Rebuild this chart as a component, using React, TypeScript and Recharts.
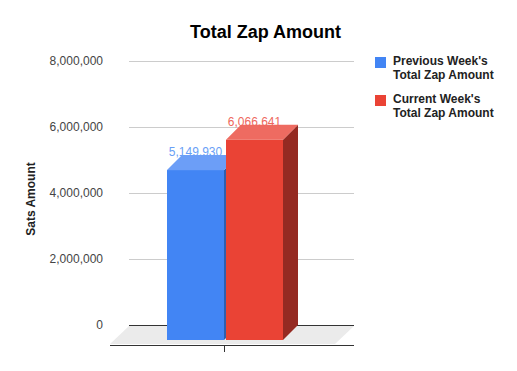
import React from 'react';
import { BarChart, Bar, XAxis, YAxis, CartesianGrid, LabelList } from 'recharts';

const categories = ['Total Zap Amount'];
const seriesNames = ["Previous Week's Total Zap Amount", "Current Week's Total Zap Amount"];
const previousWeek = [5149930];
const currentWeek = [6066641];
const yTicks = [0, 2000000, 4000000, 6000000, 8000000];

const data = categories.map((name, i) => ({ name, previous: previousWeek[i], current: currentWeek[i] }));

const FONT = '"Liberation Sans", Arial, sans-serif';
// 3d depth of the bars and of the floor
const DX = 15;
const DY = 15;
const FLOOR = 19;

const blue = { front: '#4285f4', top: '#6c9ef7', side: '#2f5fae', label: '#6a9ff6' };
const red = { front: '#ea4335', top: '#ee6b61', side: '#952a22', label: '#ee675c' };
const palette = [blue, red];

const fmt = (v: number) => v.toLocaleString('en-US');

const makeShape = (c: typeof blue) => (props: any) => {
  const { x, y, width, height } = props;
  if (width == null || height == null) return <g />;
  const fx = x - DX;
  const fy = y + DY;
  return (
    <g>
      <polygon
        points={`${fx + width},${fy} ${x + width},${y} ${x + width},${y + height} ${fx + width},${fy + height}`}
        fill={c.side}
      />
      <polygon points={`${fx},${fy} ${x},${y} ${x + width},${y} ${fx + width},${fy}`} fill={c.top} />
      <rect x={fx} y={fy} width={width} height={height} fill={c.front} />
    </g>
  );
};

const makeLabel = (c: typeof blue) => (props: any) => {
  const { x, y, width, value } = props;
  return (
    <text
      x={x - DX + width / 2}
      y={y + 1}
      textAnchor="middle"
      fontSize={12}
      fontFamily={FONT}
      fill={c.label}
    >
      {fmt(value)}
    </text>
  );
};

const gridLine = (props: any) => {
  const { x1, y1, x2, y, height } = props;
  if (Math.abs(y1 - (y + height)) < 1) {
    return (
      <g key={props.key}>
        <polygon
          points={`${x1},${y1 + 1} ${x2},${y1 + 1} ${x2 - FLOOR},${y1 + 19} ${x1 - FLOOR},${y1 + 19}`}
          fill="#ebebeb"
        />
        <line x1={x1} y1={y1} x2={x2} y2={y1} stroke="#333" shapeRendering="crispEdges" />
        <line x1={x1 - FLOOR} y1={y1 + 20} x2={x2} y2={y1 + 20} stroke="#333" shapeRendering="crispEdges" />
      </g>
    );
  }
  return <line key={props.key} x1={x1} y1={y1} x2={x2} y2={y1} stroke="#cccccc" shapeRendering="crispEdges" />;
};

const xTick = (props: any) => {
  const { x, y } = props;
  return <line x1={x - DX - 1} x2={x - DX - 1} y1={y + 20} y2={y + 27} stroke="#333" shapeRendering="crispEdges" />;
};

const yTitle = (props: any) => {
  const vb = props.viewBox;
  const cx = vb.x + 31;
  const cy = vb.y + vb.height / 2 + 6;
  return (
    <text
      x={cx}
      y={cy}
      transform={`rotate(-90 ${cx} ${cy})`}
      textAnchor="middle"
      dominantBaseline="central"
      fontSize={12}
      fontWeight="bold"
      fontFamily={FONT}
      fill="#222"
    >
      Sats Amount
    </text>
  );
};

export default function App() {
  return (
    <div style={{ position: 'absolute', left: 0, top: 0, width: 517, height: 371, background: '#fff', fontFamily: FONT }}>
      <div
        style={{
          position: 'absolute',
          left: 0,
          width: 531,
          top: 23,
          textAlign: 'center',
          fontSize: 18,
          lineHeight: '18px',
          fontWeight: 'bold',
          color: '#000',
        }}
      >
        Total Zap Amount
      </div>
      <BarChart
        width={517}
        height={371}
        data={data}
        margin={{ top: 61, right: 163, bottom: 26, left: 0 }}
        barSize={57}
        barGap={2}
      >
        <CartesianGrid vertical={false} horizontal={gridLine} />
        <XAxis
          dataKey="name"
          height={20}
          axisLine={false}
          tickLine={false}
          tickSize={0}
          tickMargin={0}
          tick={xTick}
          padding={{ left: 0, right: 3 }}
        />
        <YAxis
          width={129}
          domain={[0, 8000000]}
          ticks={yTicks}
          tickFormatter={fmt}
          axisLine={false}
          tickLine={false}
          tickSize={0}
          tickMargin={26}
          tick={{ fill: '#444', fontSize: 12, fontFamily: FONT }}
          label={{ content: yTitle }}
        />
        <Bar dataKey="previous" name={seriesNames[0]} isAnimationActive={false} shape={makeShape(blue)}>
          <LabelList dataKey="previous" content={makeLabel(blue)} />
        </Bar>
        <Bar dataKey="current" name={seriesNames[1]} isAnimationActive={false} shape={makeShape(red)}>
          <LabelList dataKey="current" content={makeLabel(red)} />
        </Bar>
      </BarChart>
      <div style={{ position: 'absolute', left: 375, top: 54, width: 140 }}>
        {seriesNames.map((n, i) => (
          <div key={n} style={{ display: 'flex', alignItems: 'flex-start', marginBottom: 10 }}>
            <div style={{ width: 11, height: 11, marginTop: 3, background: palette[i].front, flex: 'none' }} />
            <div
              style={{
                marginLeft: 7,
                fontSize: 12,
                lineHeight: '14px',
                fontWeight: 'bold',
                color: '#222',
                width: 112,
                flex: 'none',
              }}
            >
              {n}
            </div>
          </div>
        ))}
      </div>
    </div>
  );
}
